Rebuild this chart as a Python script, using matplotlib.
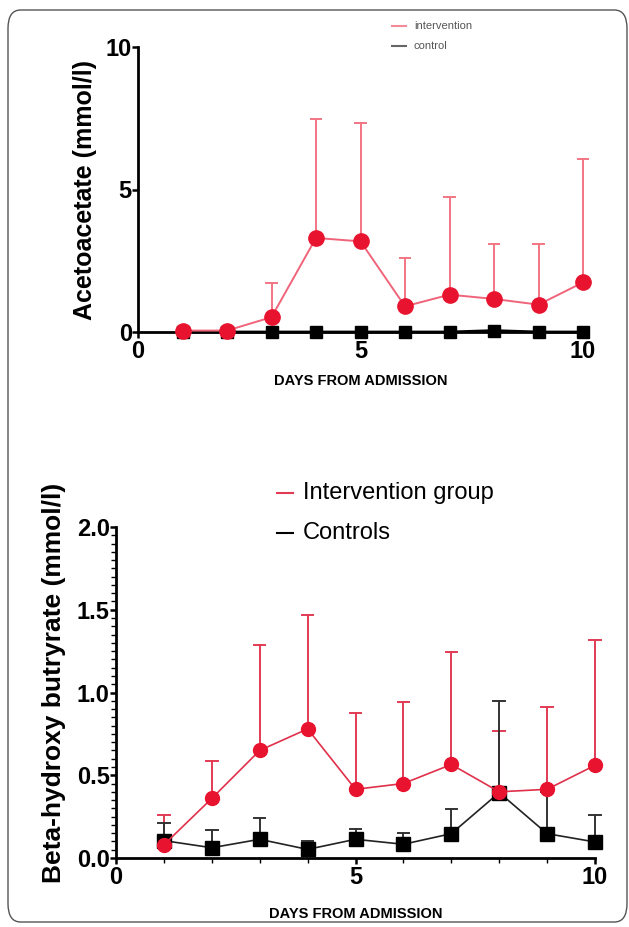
import numpy as np
import matplotlib
matplotlib.use("Agg")
import matplotlib.pyplot as plt
from matplotlib.patches import FancyBboxPatch
from matplotlib.ticker import MultipleLocator

plt.rcParams['font.family'] = ['Liberation Sans', 'DejaVu Sans']

days = [1, 2, 3, 4, 5, 6, 7, 8, 9, 10]

# acetoacetate (mmol/l), mean and upper SD end
aca_int = [0.05, 0.05, 0.52, 3.3, 3.18, 0.9, 1.31, 1.16, 0.96, 1.74]
aca_int_top = [0.05, 0.05, 1.72, 7.47, 7.34, 2.61, 4.73, 3.08, 3.08, 6.08]
aca_ctl = [0.0, 0.0, 0.0, 0.0, 0.0, 0.0, 0.0, 0.05, 0.0, 0.0]

# beta-hydroxy butyrate (mmol/l)
bhb_int = [0.08, 0.36, 0.65, 0.78, 0.415, 0.45, 0.565, 0.40, 0.415, 0.56]
bhb_int_top = [0.26, 0.586, 1.285, 1.468, 0.878, 0.943, 1.247, 0.767, 0.912, 1.317]
bhb_ctl = [0.105, 0.062, 0.113, 0.052, 0.113, 0.083, 0.147, 0.395, 0.147, 0.097]
bhb_ctl_top = [0.21, 0.169, 0.24, 0.10, 0.177, 0.149, 0.294, 0.949, 0.40, 0.26]

W, H = 629, 927
fig = plt.figure(figsize=(W / 100, H / 100), dpi=100)

border = FancyBboxPatch((8 / W, 1 - 922 / H), 619 / W, 912 / H,
                        boxstyle="round,pad=0,rounding_size=0.02",
                        transform=fig.transFigure, fill=False,
                        edgecolor='#555555', linewidth=1.0)
fig.patches.append(border)

red = '#e8132f'


def style_axes(ax):
    for s in ['top', 'right']:
        ax.spines[s].set_visible(False)
    for s in ['left', 'bottom']:
        ax.spines[s].set_linewidth(2.0)
    ax.tick_params(which='major', direction='out', length=4, width=1.8,
                   labelsize=17, pad=2)
    ax.tick_params(axis='y', which='major', pad=0.5)
    for lbl in ax.get_xticklabels() + ax.get_yticklabels():
        lbl.set_fontweight('bold')


def up_errors(ax, x, y, top, color, lw):
    # one-sided SD bars with a cap
    for xi, yi, ti in zip(x, y, top):
        if ti > yi:
            ax.plot([xi, xi], [yi, ti], color=color, lw=lw, zorder=2, clip_on=False)
            ax.plot([xi - 0.12, xi + 0.12], [ti, ti], color=color, lw=lw, zorder=2,
                    clip_on=False)


# ---- top panel ----
ax1 = fig.add_axes([138 / W, 1 - 332 / H, (583 - 138) / W, (332 - 47) / H])
ax1.set_xlim(0, 10)
ax1.set_ylim(0, 10)
up_errors(ax1, days, aca_int, aca_int_top, '#f27584', 1.4)
ax1.plot(days, aca_ctl, color='black', lw=2.0, marker='s', ms=8, zorder=3,
         clip_on=False)
ax1.plot(days, aca_int, color='#f0647a', lw=1.4, marker='o', ms=11,
         mfc=red, mec=red, zorder=4, clip_on=False)
ax1.set_xticks([0, 5, 10])
ax1.set_yticks([0, 5, 10])
style_axes(ax1)
ax1.set_ylabel('Acetoacetate (mmol/l)', fontsize=18, fontweight='bold')
ax1.yaxis.set_label_coords(-0.092, 0.5)
ax1.set_xlabel('DAYS FROM ADMISSION', fontsize=10.5, fontweight='bold', labelpad=8)

fig.add_artist(plt.Line2D([392 / W, 406 / W], [1 - 26 / H] * 2, color='#f48a98',
                          lw=1.5, transform=fig.transFigure))
fig.add_artist(plt.Line2D([392 / W, 406 / W], [1 - 46 / H] * 2, color='#666666',
                          lw=1.5, transform=fig.transFigure))
fig.text(414 / W, 1 - 26 / H, 'intervention', fontsize=8, color='#555555', va='center')
fig.text(414 / W, 1 - 46 / H, 'control', fontsize=8, color='#555555', va='center')

# ---- bottom panel ----
ax2 = fig.add_axes([116 / W, 1 - 858 / H, (595 - 116) / W, (858 - 527) / H])
ax2.set_xlim(0, 10)
ax2.set_ylim(0, 2.0)
up_errors(ax2, days, bhb_int, bhb_int_top, '#e23a55', 1.4)
up_errors(ax2, days, bhb_ctl, bhb_ctl_top, '#333333', 1.4)
ax2.plot(days, bhb_ctl, color='#222222', lw=1.2, marker='s', ms=10,
         mfc='black', mec='black', zorder=3, clip_on=False)
ax2.plot(days, bhb_int, color='#e0304a', lw=1.2, marker='o', ms=10,
         mfc=red, mec=red, zorder=4, clip_on=False)
ax2.set_xticks([0, 5, 10])
ax2.xaxis.set_minor_locator(MultipleLocator(1))
ax2.set_yticks([0, 0.5, 1.0, 1.5, 2.0])
ax2.set_yticklabels(['0.0', '0.5', '1.0', '1.5', '2.0'])
ax2.yaxis.set_minor_locator(MultipleLocator(0.05))
style_axes(ax2)
ax2.tick_params(which='minor', direction='out', length=3.5, width=1.0)
ax2.set_ylabel('Beta-hydroxy butryrate (mmol/l)', fontsize=19, fontweight='bold')
ax2.yaxis.set_label_coords(-0.104, 0.53)
ax2.set_xlabel('DAYS FROM ADMISSION', fontsize=10.5, fontweight='bold', labelpad=13)

fig.add_artist(plt.Line2D([277 / W, 293 / W], [1 - 493 / H] * 2, color='#e23a55',
                          lw=1.5, transform=fig.transFigure))
fig.add_artist(plt.Line2D([277 / W, 293 / W], [1 - 533 / H] * 2, color='black',
                          lw=1.5, transform=fig.transFigure))
fig.text(303 / W, 1 - 493 / H, 'Intervention group', fontsize=17, va='center')
fig.text(303 / W, 1 - 533 / H, 'Controls', fontsize=17, va='center')

fig.savefig('out.png', dpi=100)
